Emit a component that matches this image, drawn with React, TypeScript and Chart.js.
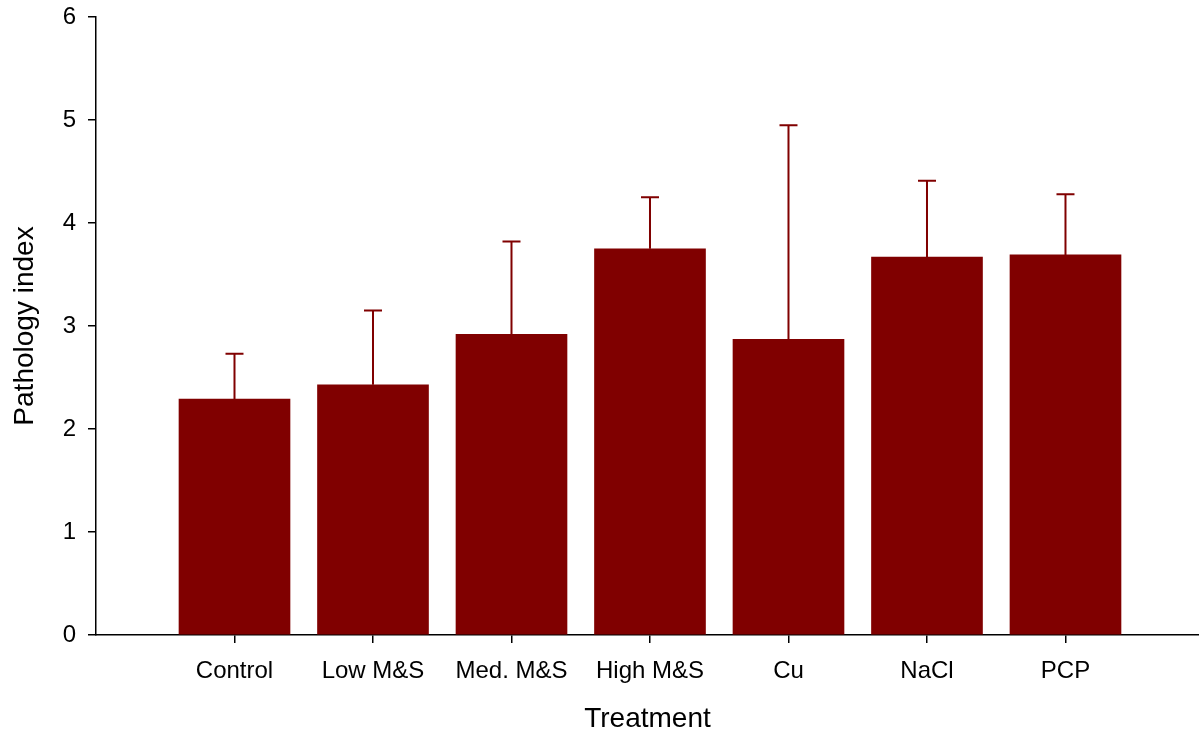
import React, { useEffect, useRef } from "react";
import { Chart, registerables } from "chart.js";

Chart.register(...registerables);

const categories = ["Control", "Low M&S", "Med. M&S", "High M&S", "Cu", "NaCl", "PCP"];
const means = [2.29, 2.43, 2.92, 3.75, 2.87, 3.67, 3.69];
const errors = [0.44, 0.72, 0.9, 0.5, 2.08, 0.74, 0.59];
const yTicks = [0, 1, 2, 3, 4, 5, 6];

const BAR_COLOR = "#800000";
const FONT = "'Liberation Sans', Arial, sans-serif";

const errorBarPlugin = {
  id: "errorBars",
  afterDatasetsDraw(chart: any) {
    const ctx = chart.ctx;
    const meta = chart.getDatasetMeta(0);
    const yScale = chart.scales.y;
    ctx.save();
    ctx.strokeStyle = BAR_COLOR;
    ctx.lineWidth = 2;
    meta.data.forEach((bar: any, i: number) => {
      const x = bar.x;
      const yBase = yScale.getPixelForValue(means[i]);
      const yTop = yScale.getPixelForValue(means[i] + errors[i]);
      ctx.beginPath();
      ctx.moveTo(x, yBase);
      ctx.lineTo(x, yTop);
      ctx.moveTo(x - 9, yTop);
      ctx.lineTo(x + 9, yTop);
      ctx.stroke();
    });
    ctx.restore();
  },
};

export default function App() {
  const ref = useRef<HTMLCanvasElement>(null);
  useEffect(() => {
    if (!ref.current) return;
    const chart = new Chart(ref.current, {
      type: "bar",
      data: {
        datasets: [
          {
            data: means.map((v, i) => ({ x: i, y: v })),
            backgroundColor: BAR_COLOR,
            borderWidth: 0,
            barThickness: 111,
          },
        ],
      },
      plugins: [errorBarPlugin],
      options: {
        animation: false,
        responsive: false,
        maintainAspectRatio: false,
        layout: { padding: { top: 17, right: 0, left: 0, bottom: 0 } },
        plugins: { legend: { display: false }, tooltip: { enabled: false } },
        scales: {
          x: {
            type: "linear",
            min: -1,
            max: 6.964,
            offset: false,
            afterBuildTicks: (scale: any) => {
              scale.ticks = categories.map((_, i) => ({ value: i }));
            },
            afterFit: (scale: any) => {
              scale.height = 101;
              scale.paddingLeft = 0;
              scale.paddingRight = 0;
            },
            ticks: {
              autoSkip: false,
              maxRotation: 0,
              callback: (v: any) => categories[v as number] ?? "",
              color: "#000",
              font: { family: FONT, size: 24 },
              padding: 14,
            },
            grid: {
              display: true,
              offset: false,
              drawOnChartArea: false,
              drawTicks: true,
              tickLength: 8,
              color: "#000",
              lineWidth: 1.5,
            },
            border: { display: true, color: "#000", width: 1.5 },
            title: {
              display: true,
              text: "Treatment",
              color: "#000",
              font: { family: FONT, size: 28 },
              padding: { top: 19, bottom: 0 },
            },
          },
          y: {
            min: 0,
            max: 6,
            afterBuildTicks: (scale: any) => {
              scale.ticks = yTicks.map((v) => ({ value: v }));
            },
            afterFit: (scale: any) => {
              scale.width = 96;
              scale.paddingTop = 0;
              scale.paddingBottom = 0;
            },
            ticks: {
              color: "#000",
              font: { family: FONT, size: 24 },
              padding: 12,
            },
            grid: {
              display: true,
              drawOnChartArea: false,
              drawTicks: true,
              tickLength: 8,
              color: "#000",
              lineWidth: 1.5,
            },
            border: { display: true, color: "#000", width: 1.5 },
            title: {
              display: true,
              text: "Pathology index",
              color: "#000",
              font: { family: FONT, size: 28 },
              padding: { top: 8, bottom: 0 },
            },
          },
        },
      },
    } as any);
    return () => chart.destroy();
  }, []);
  return (
    <div style={{ position: "fixed", left: 0, top: 0, width: 1199, height: 736, background: "#fff" }}>
      <canvas ref={ref} width={1199} height={736} style={{ display: "block", width: 1199, height: 736 }} />
    </div>
  );
}
